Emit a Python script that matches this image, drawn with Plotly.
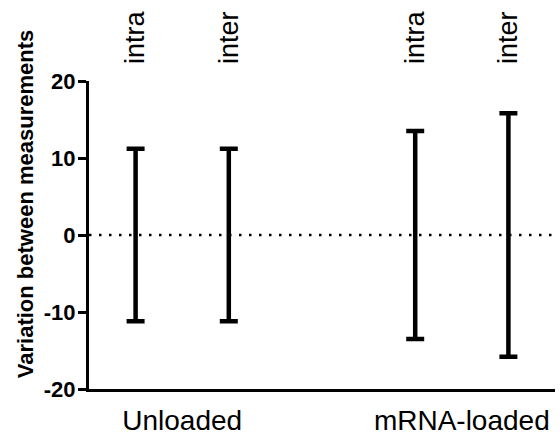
import plotly.graph_objects as go

groups = ["Unloaded", "mRNA-loaded"]
subgroups = ["intra", "inter"]
means = [0, 0, 0, 0]
half_ranges = [11.2, 11.2, 13.5, 15.8]
y_ticks = [-20, -10, 0, 10, 20]
y_tick_labels = ["-20", "-10", "0", "10", "20"]
y_title = "Variation between measurements"

# position of each bar: groups separated by one empty slot
positions = [g * (len(subgroups) + 1) + s for g in range(len(groups)) for s in range(len(subgroups))]
sub_labels = [s for g in groups for s in subgroups]
group_centers = [sum(positions[i * len(subgroups):(i + 1) * len(subgroups)]) / len(subgroups) for i in range(len(groups))]
xr = [min(positions) - 0.5, max(positions) + 0.5]

FONT = "Liberation Sans, Arial, sans-serif"

fig = go.Figure()
fig.add_trace(go.Scatter(
    x=positions, y=means, mode="markers",
    marker=dict(size=1, color="rgba(0,0,0,0)"),
    error_y=dict(type="data", array=half_ranges, symmetric=True,
                 color="black", thickness=4.5, width=9),
    showlegend=False, hoverinfo="skip",
))
# invisible trace to activate top axis
fig.add_trace(go.Scatter(x=positions, y=means, xaxis="x2", mode="markers",
                         marker=dict(size=1, color="rgba(0,0,0,0)"),
                         showlegend=False, hoverinfo="skip"))

fig.add_shape(type="line", xref="paper", x0=0, x1=1, yref="y", y0=0, y1=0,
              line=dict(color="black", width=2.5, dash="2.5px,7.5px"))

fig.add_annotation(text=y_title, textangle=-90, xref="paper", yref="paper",
                   x=-0.1373, y=0.60, xanchor="center", yanchor="middle",
                   showarrow=False,
                   font=dict(size=22, family=FONT, color="black", weight="bold"))

fig.update_layout(
    width=560, height=441,
    margin=dict(l=89, r=5, t=81, b=52, autoexpand=False),
    plot_bgcolor="white", paper_bgcolor="white",
    font=dict(family=FONT, color="black"),
    xaxis=dict(range=xr, tickmode="array", tickvals=group_centers, ticktext=groups,
               showline=True, linecolor="black", linewidth=3, ticks="",
               showgrid=False, zeroline=False, automargin=False,
               tickfont=dict(size=28, family=FONT, color="black"),
               ticklabelstandoff=4),
    xaxis2=dict(range=xr, overlaying="x", side="top", anchor="y",
                tickmode="array", tickvals=positions, ticktext=sub_labels,
                tickangle=-90, showline=False, ticks="", showgrid=False, zeroline=False,
                automargin=False,
                tickfont=dict(size=27, family=FONT, color="black"),
                ticklabelstandoff=16),
    yaxis=dict(range=[-20, 20], tickmode="array", tickvals=y_ticks, ticktext=y_tick_labels,
               showline=True, linecolor="black", linewidth=3,
               ticks="outside", ticklen=8, tickwidth=3, tickcolor="black",
               showgrid=False, zeroline=False, automargin=False,
               tickfont=dict(size=22, family=FONT, color="black", weight="bold"),
               ticklabelstandoff=-2),
)

fig.write_html("out.html", config={"displayModeBar": False},
               post_script="document.body.style.margin='0';")
